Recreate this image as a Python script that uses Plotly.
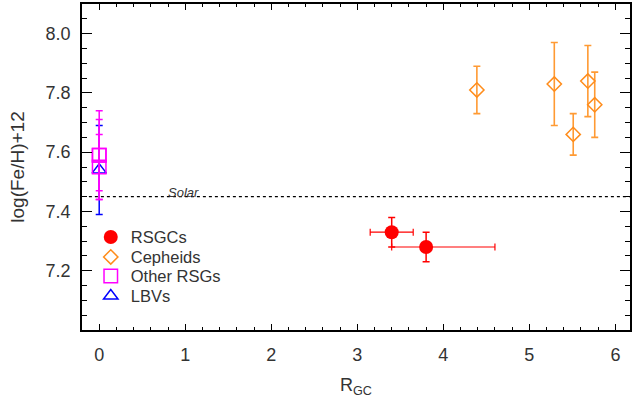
import plotly.graph_objects as go

# ---- data ----
rsgc_x = [3.4, 3.8]
rsgc_y = [7.33, 7.28]
rsgc_xerr_plus = [0.25, 0.80]
rsgc_xerr_minus = [0.25, 0.40]
rsgc_yerr = [0.05, 0.05]

ceph_x = [4.39, 5.29, 5.51, 5.68, 5.76]
ceph_y = [7.81, 7.83, 7.66, 7.84, 7.76]
ceph_yerr = [0.08, 0.14, 0.07, 0.12, 0.11]

orsg_x = [0.0, 0.0, 0.0]
orsg_y = [7.59, 7.59, 7.55]
orsg_yerr = [0.15, 0.12, 0.11]

lbv_x = [0.0]
lbv_y = [7.54]
lbv_yerr = [0.15]

SOLAR = 7.45
SOLAR_LABEL_X = 0.98

XRANGE = [-0.2, 6.17]
YRANGE = [7.0, 8.1]
XTICKS = [0, 1, 2, 3, 4, 5, 6]
YTICKS = [7.2, 7.4, 7.6, 7.8, 8.0]

# legend rows (paper y) – one legend per series so the row spacing matches
LEGEND_X = 0.016
LEGEND_ROWS = [0.2844, 0.2232, 0.1651, 0.1040]

FONT = "Liberation Sans, Arial, sans-serif"
TXT = "#333333"

fig = go.Figure()

# Solar line
fig.add_shape(type="line", xref="x", yref="y", x0=-0.12, x1=XRANGE[1], y0=SOLAR, y1=SOLAR,
              line=dict(color="black", width=1.1, dash="dot"))
fig.add_annotation(x=SOLAR_LABEL_X, y=SOLAR, text="<i>Solar</i>", showarrow=False, yanchor="bottom",
                   yshift=-5, font=dict(family=FONT, size=13, color=TXT))

fig.add_trace(go.Scatter(
    x=rsgc_x, y=rsgc_y, mode="markers", name="RSGCs", legend="legend",
    marker=dict(symbol="circle", size=14, color="#FF0000"),
    error_y=dict(type="data", array=rsgc_yerr, color="#FF0000", thickness=1.5, width=3.5),
    error_x=dict(type="data", array=rsgc_xerr_plus, arrayminus=rsgc_xerr_minus,
                 color="#FF0000", thickness=1.2, width=3.5),
))
fig.add_trace(go.Scatter(
    x=ceph_x, y=ceph_y, mode="markers", name="Cepheids", legend="legend2",
    marker=dict(symbol="diamond-open", size=11, color="#FF8C1A", line=dict(width=1.5)),
    error_y=dict(type="data", array=ceph_yerr, color="#FF9A33", thickness=1.6, width=3.5),
))
fig.add_trace(go.Scatter(
    x=lbv_x, y=lbv_y, mode="markers", name="LBVs", legend="legend4",
    marker=dict(symbol="triangle-up-open", size=12.5, color="#0000FF", line=dict(width=1.5)),
    error_y=dict(type="data", array=lbv_yerr, color="#0000FF", thickness=1.5, width=3.5),
))
fig.add_trace(go.Scatter(
    x=orsg_x, y=orsg_y, mode="markers", name="Other RSGs", legend="legend3",
    marker=dict(symbol="square-open", size=13.5, color="#FF00FF", line=dict(width=1.5)),
    error_y=dict(type="data", array=orsg_yerr, color="#FF00FF", thickness=1.5, width=3.5),
))

leg_common = dict(x=LEGEND_X, xanchor="left", yanchor="middle", bgcolor="rgba(0,0,0,0)",
                  font=dict(family=FONT, size=16.5, color=TXT), itemwidth=30)

fig.update_layout(
    width=634, height=407,
    margin=dict(l=82, r=2, t=3, b=77),
    paper_bgcolor="white", plot_bgcolor="white",
    font=dict(family=FONT, size=18, color=TXT),
    showlegend=True,
    legend=dict(y=LEGEND_ROWS[0], **leg_common),
    legend2=dict(y=LEGEND_ROWS[1], **leg_common),
    legend3=dict(y=LEGEND_ROWS[2], **leg_common),
    legend4=dict(y=LEGEND_ROWS[3], **leg_common),
)
fig.update_xaxes(
    range=XRANGE, tickvals=XTICKS, ticktext=[str(v) for v in XTICKS],
    showgrid=False, zeroline=False, showline=True, linecolor="black", linewidth=1.5,
    mirror="allticks", ticks="inside", ticklen=6, tickwidth=1.2, tickcolor="black",
    minor=dict(dtick=0.2, ticks="inside", ticklen=3, tickwidth=1, tickcolor="black"),
    tickfont=dict(size=18, color=TXT), ticklabelstandoff=8,
    title=dict(text="R<sub>GC</sub>", font=dict(size=18, color=TXT), standoff=14),
)
fig.update_yaxes(
    range=YRANGE, tickvals=YTICKS, ticktext=[f"{v:.1f}" for v in YTICKS],
    showgrid=False, zeroline=False, showline=True, linecolor="black", linewidth=1.5,
    mirror="allticks", ticks="inside", ticklen=10, tickwidth=1.2, tickcolor="black",
    minor=dict(dtick=0.05, ticks="inside", ticklen=5, tickwidth=1, tickcolor="black"),
    tickfont=dict(size=18, color=TXT), ticklabelstandoff=6,
    title=dict(text="log(Fe/H)+12", font=dict(size=19, color=TXT), standoff=16),
)

fig.write_html("out.html")
